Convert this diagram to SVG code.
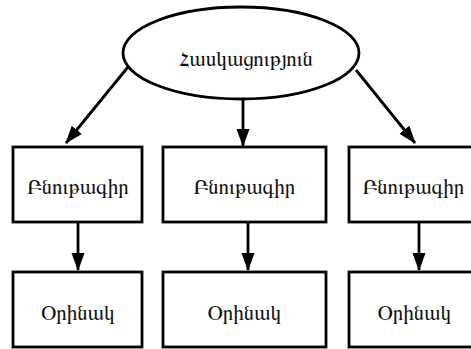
<svg xmlns="http://www.w3.org/2000/svg" width="471" height="349" viewBox="0 0 471 349">
<style>
.s{fill:#fff;stroke:#000;stroke-width:2.8}
.t{font-family:"FreeSerif","Noto Serif Armenian","DejaVu Serif",serif;font-size:21px;fill:#111;text-anchor:middle}
.c{stroke:#000;stroke-width:2.8;fill:none;marker-end:url(#a)}
</style>
<defs>
<marker id="a" markerUnits="userSpaceOnUse" markerWidth="18" markerHeight="14" viewBox="0 0 18 14" refX="17" refY="7" orient="auto">
<path d="M0,0.5 L18,7 L0,13.5 Z" fill="#000"/>
</marker>
</defs>
<rect width="471" height="349" fill="#fff"/>
<g id="connectors">
<path class="c" d="M128,67 L66,143"/>
<path class="c" d="M243,100 L243,146"/>
<path class="c" d="M356,70 L415,143"/>
<path class="c" d="M78,222 L78,270"/>
<path class="c" d="M248,222 L248,270"/>
<path class="c" d="M419,222 L419,270"/>
</g>
<g id="root"><ellipse class="s" cx="241" cy="53" rx="118" ry="46"/><text class="t" x="246" y="66">Հասկացություն</text></g>
<g id="b1"><rect class="s" x="13" y="147" width="129" height="75"/><text class="t" x="78" y="194">Բնութագիր</text></g>
<g id="b2"><rect class="s" x="163" y="147" width="163" height="75"/><text class="t" x="244.5" y="194">Բնութագիր</text></g>
<g id="b3"><rect class="s" x="349" y="147" width="129" height="75"/><text class="t" x="413.5" y="194">Բնութագիր</text></g>
<g id="e1"><rect class="s" x="13" y="272" width="129" height="75"/><text class="t" x="78" y="320">Օրինակ</text></g>
<g id="e2"><rect class="s" x="163" y="272" width="163" height="75"/><text class="t" x="244.5" y="320">Օրինակ</text></g>
<g id="e3"><rect class="s" x="349" y="272" width="129" height="75"/><text class="t" x="414.5" y="320">Օրինակ</text></g>
</svg>
